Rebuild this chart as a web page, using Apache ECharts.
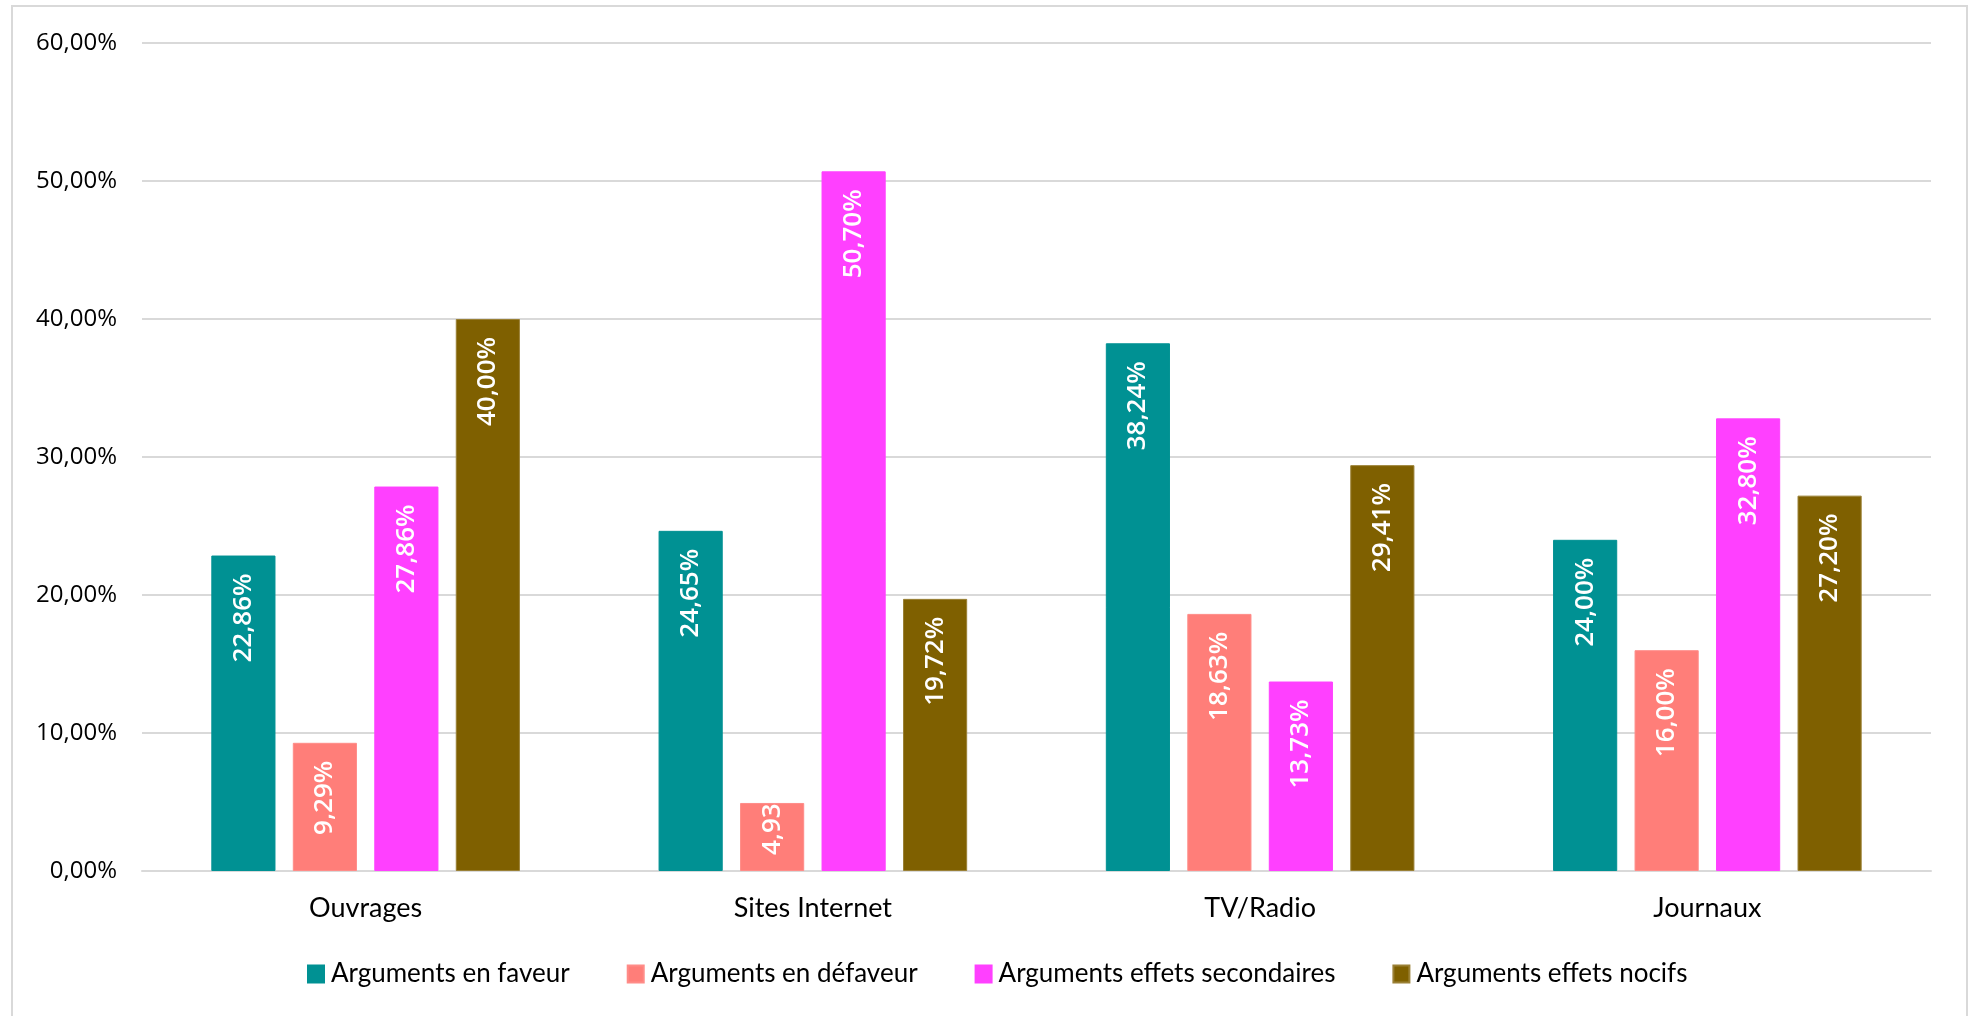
<!DOCTYPE html>
<html>
<head>
<meta charset="utf-8">
<script src="https://cdn.jsdelivr.net/npm/echarts@6/dist/echarts.min.js"></script>
<style>
html,body{margin:0;padding:0;background:#fff;}
#chart{width:1969px;height:1016px;}
</style>
</head>
<body>
<div id="chart"></div>
<script>
const categories = ['Ouvrages', 'Sites Internet', 'TV/Radio', 'Journaux'];
const seriesNames = ['Arguments en faveur', 'Arguments en défaveur', 'Arguments effets secondaires', 'Arguments effets nocifs'];
const enFaveur = [22.86, 24.65, 38.24, 24.00];
const enDefaveur = [9.29, 4.93, 18.63, 16.00];
const effetsSecondaires = [27.86, 50.70, 13.73, 32.80];
const effetsNocifs = [40.00, 19.72, 29.41, 27.20];
const yTicks = { min: 0, max: 60, interval: 10 };
const colors = ['#009193', '#FF7E79', '#FF40FF', '#7F6000'];
const borders = ['#009193', '#FF8C88', '#FF40FF', '#9A8035'];

const fmt = v => v.toFixed(2).replace('.', ',') + '%';
const allValues = [enFaveur, enDefaveur, effetsSecondaires, effetsNocifs];

const chart = echarts.init(document.getElementById('chart'));
const series = allValues.map((vals, i) => ({
  name: seriesNames[i],
  type: 'bar',
  barGap: '27%',
  barCategoryGap: '31%',
  itemStyle: { color: colors[i], borderColor: borders[i], borderWidth: 1 },
  data: vals.map(v => v < 8 ? {
    value: v,
    label: { position: 'insideBottom', align: 'left', distance: 16 }
  } : v),
  label: {
    show: true,
    position: 'insideTop',
    distance: 18,
    rotate: 90,
    align: 'right',
    verticalAlign: 'middle',
    color: '#fff',
    fontFamily: 'Open Sans',
    fontWeight: 600,
    fontSize: 26,
    formatter: p => fmt(p.value)
  }
}));

chart.setOption({
  animation: false,
  backgroundColor: '#fff',
  color: colors,
  graphic: [{
    type: 'rect',
    shape: { x: 12, y: 6, width: 1955, height: 1030 },
    style: { fill: 'none', stroke: '#d9d9d9', lineWidth: 2 },
    silent: true
  }],
  grid: { left: 142, right: 38, top: 43, bottom: 145 },
  legend: {
    data: seriesNames,
    left: 302,
    bottom: 24,
    icon: 'rect',
    itemWidth: 16,
    itemHeight: 17,
    itemGap: 57,
    textStyle: { fontFamily: 'Lato', fontSize: 26, color: '#000', padding: [0, 0, 0, 2] }
  },
  xAxis: {
    type: 'category',
    data: categories,
    axisTick: { show: false },
    axisLine: { lineStyle: { color: '#d9d9d9', width: 2 } },
    axisLabel: { fontFamily: 'Lato', fontSize: 27, color: '#000', margin: 24 }
  },
  yAxis: {
    type: 'value',
    min: yTicks.min,
    max: yTicks.max,
    interval: yTicks.interval,
    axisLine: { show: false },
    axisTick: { show: false },
    splitLine: { lineStyle: { color: '#d9d9d9', width: 2 } },
    axisLabel: { fontFamily: 'Open Sans', fontSize: 24, color: '#000', margin: 25, formatter: v => fmt(v) }
  },
  series: series
});
</script>
</body>
</html>
